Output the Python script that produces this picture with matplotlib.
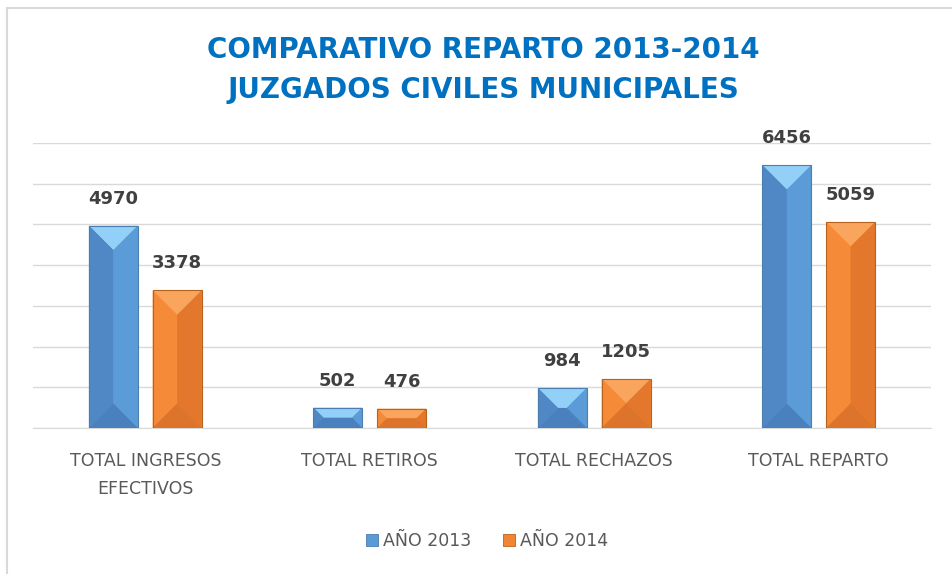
import matplotlib
matplotlib.use("Agg")
import matplotlib.pyplot as plt
import numpy as np
from matplotlib.patches import Polygon, Patch
from matplotlib.lines import Line2D

categories = ["TOTAL INGRESOS\nEFECTIVOS", "TOTAL RETIROS", "TOTAL RECHAZOS", "TOTAL REPARTO"]
values_2013 = [4970, 502, 984, 6456]
values_2014 = [3378, 476, 1205, 5059]
series_names = ["AÑO 2013", "AÑO 2014"]

# base, top face, left face, right face, bottom face, edge
blue = ["#5B9BD5", "#92D0F7", "#4F88C4", "#5A9BD8", "#4A80BD", "#4A7DB0"]
orange = ["#F08635", "#FAA55E", "#F58A38", "#E3772B", "#DC742C", "#B8621F"]

fig = plt.figure(figsize=(9.53, 5.74), dpi=100)
ax = fig.add_axes([33 / 953, 1 - 428 / 574, 898 / 953, 285 / 574])
ax.set_xlim(-0.5, 3.5)
ax.set_ylim(0, 7000)

# pixels per data unit (for bevel depth)
x_ppu = ax.get_position().width * fig.get_figwidth() * fig.dpi / 4.0
y_ppu = ax.get_position().height * fig.get_figheight() * fig.dpi / 7000.0

bar_w = 0.218
offset = 0.142


def bevel_bar(xc, h, cols):
    x0, x1 = xc - bar_w / 2, xc + bar_w / 2
    half_px = bar_w / 2 * x_ppu
    d_px = min(half_px, h * y_ppu / 2)
    dx = d_px / x_ppu
    dy = d_px / y_ppu
    base, topc, leftc, rightc, botc, edge = cols
    ax.add_patch(Polygon([(x0, 0), (x1, 0), (x1, h), (x0, h)], closed=True,
                         facecolor=base, edgecolor="none", zorder=3))
    faces = [
        ([(x0, h), (x1, h), (x1 - dx, h - dy), (x0 + dx, h - dy)], topc),
        ([(x0, h), (x0 + dx, h - dy), (x0 + dx, dy), (x0, 0)], leftc),
        ([(x1, h), (x1 - dx, h - dy), (x1 - dx, dy), (x1, 0)], rightc),
        ([(x0, 0), (x1, 0), (x1 - dx, dy), (x0 + dx, dy)], botc),
    ]
    for pts, c in faces:
        ax.add_patch(Polygon(pts, closed=True, facecolor=c, edgecolor="none", zorder=3))
    ax.add_patch(Polygon([(x0, 0), (x1, 0), (x1, h), (x0, h)], closed=True,
                         facecolor="none", edgecolor=edge, linewidth=0.8, zorder=4))


x = np.arange(len(categories))
for i in range(len(categories)):
    bevel_bar(x[i] - offset, values_2013[i], blue)
    bevel_bar(x[i] + offset, values_2014[i], orange)
    for xv, v in [(x[i] - offset, values_2013[i]), (x[i] + offset, values_2014[i])]:
        ax.annotate(str(v), (xv, v), xytext=(0, 13), textcoords="offset points",
                    ha="center", va="bottom", fontsize=13, fontweight="bold",
                    color="#404040")

ax.set_yticks(np.arange(0, 7001, 1000))
ax.grid(axis="y", color="#D9D9D9", linewidth=1)
ax.set_axisbelow(True)
ax.tick_params(axis="y", left=False, labelleft=False)
ax.tick_params(axis="x", length=0, pad=17.5, labelsize=12.5, labelcolor="#595959")
ax.set_xticks(x)
ax.set_xticklabels(categories)
for t in ax.get_xticklabels():
    t.set_linespacing(1.7)
for s in ["top", "right", "left"]:
    ax.spines[s].set_visible(False)
ax.spines["bottom"].set_color("#D9D9D9")

fig.text(0.507, 1 - 50 / 574, "COMPARATIVO REPARTO 2013-2014", ha="center", va="center",
         fontsize=20, fontweight="bold", color="#0070C0")
fig.text(0.507, 1 - 90 / 574, "JUZGADOS CIVILES MUNICIPALES", ha="center", va="center",
         fontsize=20, fontweight="bold", color="#0070C0")

handles = [Patch(facecolor=blue[0], edgecolor=blue[5], linewidth=0.6),
           Patch(facecolor=orange[0], edgecolor=orange[5], linewidth=0.6)]
fig.legend(handles, series_names, loc="center", bbox_to_anchor=(0.511, 1 - 541 / 574),
           ncol=2, frameon=False, fontsize=12.5, labelcolor="#595959",
           handlelength=0.7, handleheight=0.7, handletextpad=0.3, columnspacing=1.8)

# chart border (only left and top visible)
fig.add_artist(Line2D([6.5 / 953, 6.5 / 953], [0, 1 - 8 / 574], color="#D9D9D9", linewidth=1.5))
fig.add_artist(Line2D([6.5 / 953, 1], [1 - 8 / 574, 1 - 8 / 574], color="#D9D9D9", linewidth=1.5))

fig.savefig("out.png", dpi=100, facecolor="white")
